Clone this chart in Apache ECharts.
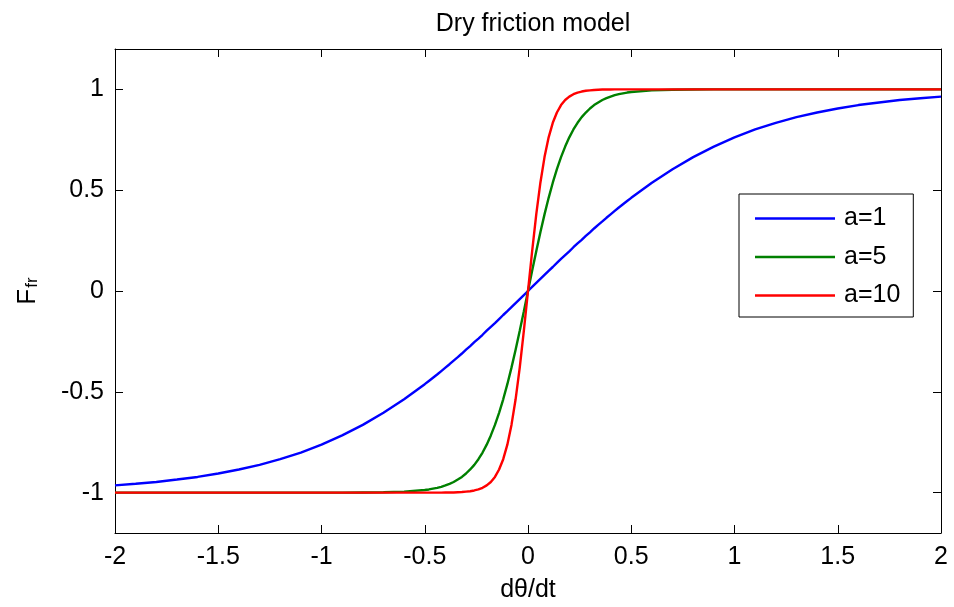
<!DOCTYPE html>
<html>
<head>
<meta charset="utf-8">
<script src="https://cdn.jsdelivr.net/npm/echarts@6/dist/echarts.min.js"></script>
<style>
html,body{margin:0;padding:0;background:#fff;}
#chart{width:954px;height:607px;}
</style>
</head>
<body>
<div id="chart"></div>
<script>
// Shared x positions (dθ/dt)
const xs = [-2,-1.9,-1.8,-1.7,-1.6,-1.5,-1.4,-1.3,-1.2,-1.1,-1,-0.9,-0.8,-0.7,-0.6,
  -0.5,-0.48,-0.46,-0.44,-0.42,-0.4,-0.38,-0.36,-0.34,-0.32,-0.3,-0.28,-0.26,-0.24,-0.22,-0.2,-0.18,-0.16,-0.14,-0.12,-0.1,-0.08,-0.06,-0.04,-0.02,
  0,
  0.02,0.04,0.06,0.08,0.1,0.12,0.14,0.16,0.18,0.2,0.22,0.24,0.26,0.28,0.3,0.32,0.34,0.36,0.38,0.4,0.42,0.44,0.46,0.48,0.5,
  0.6,0.7,0.8,0.9,1,1.1,1.2,1.3,1.4,1.5,1.6,1.7,1.8,1.9,2];

const a1 = [-0.964,-0.956,-0.947,-0.935,-0.922,-0.905,-0.885,-0.862,-0.834,-0.801,-0.762,-0.716,-0.664,-0.604,-0.537,
  -0.462,-0.446,-0.430,-0.414,-0.397,-0.380,-0.363,-0.345,-0.328,-0.310,-0.291,-0.273,-0.254,-0.236,-0.217,-0.197,-0.178,-0.159,-0.139,-0.119,-0.100,-0.080,-0.060,-0.040,-0.020,
  0,
  0.020,0.040,0.060,0.080,0.100,0.119,0.139,0.159,0.178,0.197,0.217,0.236,0.254,0.273,0.291,0.310,0.328,0.345,0.363,0.380,0.397,0.414,0.430,0.446,0.462,
  0.537,0.604,0.664,0.716,0.762,0.801,0.834,0.862,0.885,0.905,0.922,0.935,0.947,0.956,0.964];

const a5 = [-1,-1,-1,-1,-1,-1,-1,-1,-1,-1,-1,-1,-0.999,-0.998,-0.995,
  -0.987,-0.984,-0.980,-0.976,-0.971,-0.964,-0.956,-0.947,-0.935,-0.922,-0.905,-0.885,-0.862,-0.834,-0.801,-0.762,-0.716,-0.664,-0.604,-0.537,-0.462,-0.380,-0.291,-0.197,-0.100,
  0,
  0.100,0.197,0.291,0.380,0.462,0.537,0.604,0.664,0.716,0.762,0.801,0.834,0.862,0.885,0.905,0.922,0.935,0.947,0.956,0.964,0.971,0.976,0.980,0.984,0.987,
  0.995,0.998,0.999,1,1,1,1,1,1,1,1,1,1,1,1];

const a10 = [-1,-1,-1,-1,-1,-1,-1,-1,-1,-1,-1,-1,-1,-1,-1,
  -1,-1,-1,-1,-1,-0.999,-0.999,-0.999,-0.998,-0.997,-0.995,-0.993,-0.989,-0.984,-0.976,-0.964,-0.947,-0.922,-0.885,-0.834,-0.762,-0.664,-0.537,-0.380,-0.197,
  0,
  0.197,0.380,0.537,0.664,0.762,0.834,0.885,0.922,0.947,0.964,0.976,0.984,0.989,0.993,0.995,0.997,0.998,0.999,0.999,0.999,1,1,1,1,1,
  1,1,1,1,1,1,1,1,1,1,1,1,1,1,1];

const seriesNames = ['a=1','a=5','a=10'];
const seriesColors = ['#0000ff','#008000','#ff0000'];
const seriesValues = [a1, a5, a10];
const yTicks = [-1,-0.5,0,0.5,1];
const titleText = 'Dry friction model';
const xName = 'dθ/dt';

const FONT = '"Liberation Sans", Arial, sans-serif';
const FS = 25;

const chart = echarts.init(document.getElementById('chart'), null, {renderer:'canvas'});

function pairs(ys){ return xs.map((x,i)=>[x, ys[i]]); }

const lineStyleAxis = {color:'#000',width:1};

const option = {
  animation:false,
  backgroundColor:'#fff',
  title:{
    text:titleText,
    left:528, top:7,
    textAlign:'center',
    textStyle:{fontFamily:FONT,fontSize:FS,fontWeight:'normal',color:'#000'}
  },
  legend:{
    orient:'vertical',
    left:739, top:194,
    data:seriesNames,
    icon:'rect',
    itemWidth:80, itemHeight:2.5, itemGap:13.5,
    padding:[12,13,9,16],
    borderColor:'#000', borderWidth:1, borderRadius:0,
    backgroundColor:'#fff',
    textStyle:{fontFamily:FONT,fontSize:FS,color:'#000',lineHeight:24,padding:[0,0,0,4]}
  },
  grid:{left:115,right:13,top:49,bottom:74,containLabel:false,outerBoundsMode:'none'},
  xAxis:[
    {
      type:'value',position:'bottom',min:-2,max:2,interval:0.5,
      axisLine:{show:true,onZero:false,lineStyle:lineStyleAxis},
      axisTick:{show:true,inside:true,length:8,lineStyle:lineStyleAxis},
      splitLine:{show:false},
      name:xName,nameLocation:'middle',nameGap:45,
      nameTextStyle:{fontFamily:FONT,fontSize:FS,color:'#000'},
      axisLabel:{fontFamily:FONT,fontSize:FS,color:'#000',margin:12}
    },
    {
      type:'value',position:'top',min:-2,max:2,interval:0.5,
      axisLine:{show:true,onZero:false,lineStyle:lineStyleAxis},
      axisTick:{show:true,inside:true,length:8,lineStyle:lineStyleAxis},
      splitLine:{show:false},
      axisLabel:{show:false}
    }
  ],
  yAxis:[
    {
      type:'value',position:'left',min:-1.2,max:1.2,
      axisLine:{show:true,onZero:false,lineStyle:lineStyleAxis},
      axisTick:{show:true,inside:true,length:8,lineStyle:lineStyleAxis,customValues:yTicks},
      splitLine:{show:false},
      axisLabel:{fontFamily:FONT,fontSize:FS,color:'#000',margin:11,customValues:yTicks},
      name:'{f|F}{s|fr}',nameLocation:'middle',nameGap:74,nameRotate:90,
      nameTextStyle:{fontFamily:FONT,color:'#000',
        rich:{
          f:{fontFamily:FONT,fontSize:26,color:'#000',verticalAlign:'top',lineHeight:26},
          s:{fontFamily:FONT,fontSize:17,color:'#000',verticalAlign:'bottom',lineHeight:18,padding:[19,0,0,1]}
        }}
    },
    {
      type:'value',position:'right',min:-1.2,max:1.2,
      axisLine:{show:true,onZero:false,lineStyle:lineStyleAxis},
      axisTick:{show:true,inside:true,length:8,lineStyle:lineStyleAxis,customValues:yTicks},
      axisLabel:{show:false},
      splitLine:{show:false}
    }
  ],
  series: seriesNames.map((n,i)=>({
    name:n,type:'line',xAxisIndex:0,yAxisIndex:0,
    data:pairs(seriesValues[i]),
    showSymbol:false,symbol:'none',smooth:false,
    lineStyle:{color:seriesColors[i],width:2.4},
    itemStyle:{color:seriesColors[i]},
    clip:true
  }))
};
chart.setOption(option);
</script>
</body>
</html>
